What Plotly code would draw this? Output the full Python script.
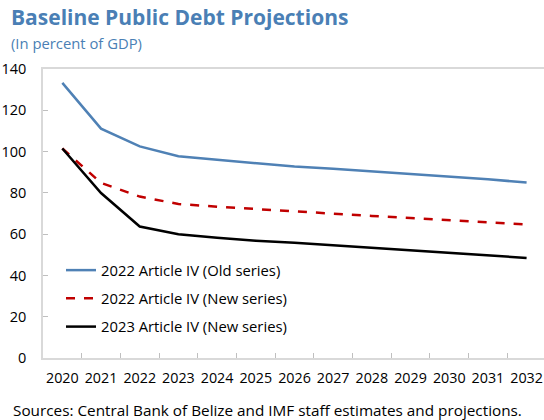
import plotly.graph_objects as go

years = ["2020", "2021", "2022", "2023", "2024", "2025", "2026",
         "2027", "2028", "2029", "2030", "2031", "2032"]
old_2022 = [133.3, 111.1, 102.5, 97.7, 96.0, 94.4, 92.8, 91.7, 90.5, 89.3, 88.0, 86.6, 85.0]
new_2022 = [101.5, 84.8, 78.2, 74.6, 73.3, 72.1, 71.0, 69.9, 68.8, 67.8, 66.7, 65.7, 64.7]
new_2023 = [101.5, 79.9, 63.7, 60.0, 58.2, 56.8, 55.8, 54.6, 53.3, 52.1, 50.8, 49.7, 48.5]
names = ["2022 Article IV (Old series)", "2022 Article IV (New series)", "2023 Article IV (New series)"]
y_ticks = [0, 20, 40, 60, 80, 100, 120, 140]

FONT = "Open Sans"
BLUE = "#4a7fb5"

fig = go.Figure()
fig.add_trace(go.Scatter(x=years, y=old_2022, name=names[0], mode="lines",
                         line=dict(color="#4f81b5", width=2.5), legendgroup="a"))
fig.add_trace(go.Scatter(x=years, y=new_2022, name=names[1], mode="lines",
                         line=dict(color="#c00000", width=2.5, dash="dash"), legendgroup="b"))
fig.add_trace(go.Scatter(x=years, y=new_2023, name=names[2], mode="lines",
                         line=dict(color="#000000", width=2.5), legendgroup="c"))

L, T, B = 43, 69, 358
W, H = 544, 420
PW = W - L
PH = B - T

def px(x):
    return (x - L) / PW

def py(y):
    return (B - y) / PH

fig.update_layout(
    width=W, height=H,
    margin=dict(l=L, r=0, t=T, b=H - B),
    plot_bgcolor="white", paper_bgcolor="white",
    font=dict(family=FONT, size=14, color="#000000"),
    showlegend=True,
    legend=dict(x=px(61), y=py(254), xanchor="left", yanchor="top",
                bgcolor="rgba(0,0,0,0)", font=dict(size=14.8, family=FONT),
                tracegroupgap=6, itemwidth=30),
    xaxis=dict(type="category", range=[-0.5, 12.45], showgrid=False,
               showline=True, linecolor="#d9d9d9", linewidth=1.5, mirror=True,
               ticks="inside", tickson="boundaries", ticklen=5, tickcolor="#bfbfbf",
               tickangle=0, automargin=False, ticklabelstandoff=6,
               tickfont=dict(size=14.3, family=FONT), zeroline=False),
    yaxis=dict(range=[0, 140], tickvals=y_ticks, showgrid=False,
               showline=True, linecolor="#d9d9d9", linewidth=1.5, mirror=True,
               ticks="inside", ticklen=5, tickcolor="#bfbfbf", automargin=False,
               ticklabelstandoff=12,
               tickfont=dict(size=14.5, family=FONT), zeroline=False),
    annotations=[
        dict(text="<b>Baseline Public Debt Projections</b>", xref="paper", yref="paper",
             x=px(9), y=py(17), xanchor="left", yanchor="middle", showarrow=False,
             font=dict(size=21, color=BLUE, family=FONT)),
        dict(text="(In percent of GDP)", xref="paper", yref="paper",
             x=px(9), y=py(43), xanchor="left", yanchor="middle", showarrow=False,
             font=dict(size=14.8, color=BLUE, family=FONT)),
        dict(text="Sources: Central Bank of Belize and IMF staff estimates and projections.",
             xref="paper", yref="paper", x=px(11), y=py(410), xanchor="left", yanchor="middle",
             showarrow=False, font=dict(size=15.3, color="#000000", family=FONT)),
    ],
)

fig.write_html("out.html", config={"displayModeBar": False},
               post_script="document.body.style.margin='0';document.body.style.overflow='hidden';")
